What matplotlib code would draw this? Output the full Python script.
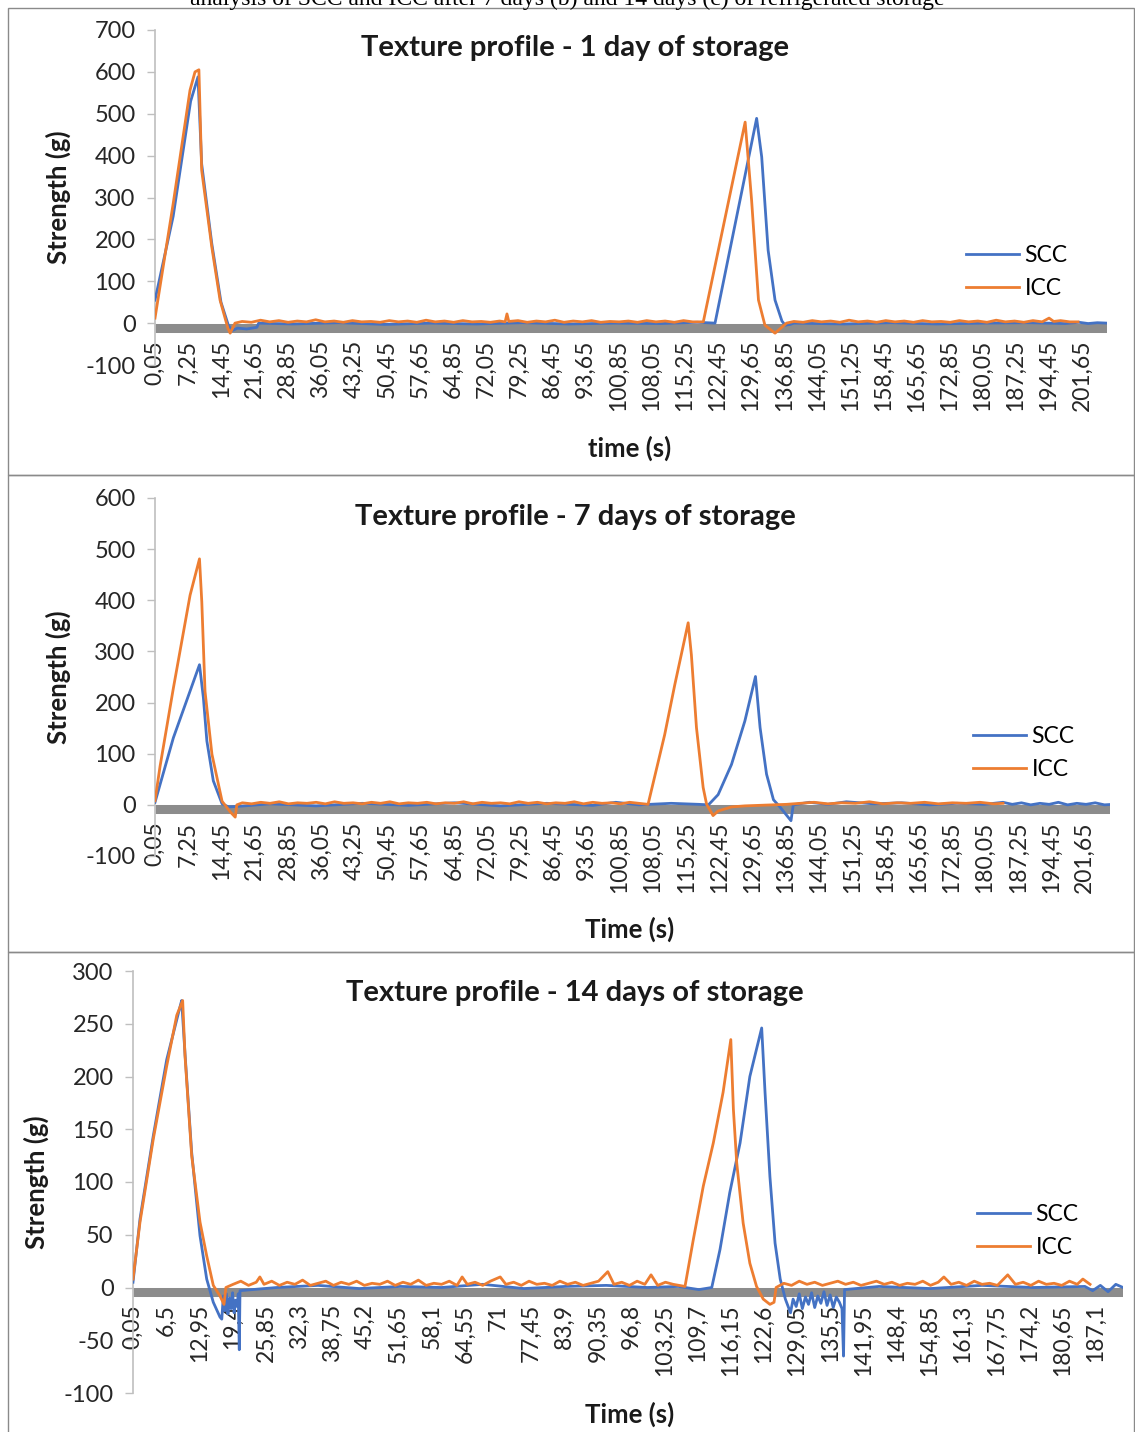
import matplotlib
matplotlib.use("Agg")
import matplotlib.pyplot as plt
import matplotlib.transforms as mtransforms
from matplotlib.patches import Rectangle

plt.rcParams['font.family'] = ['Lato', 'DejaVu Sans']

W, H = 1135, 1432

SCC_COLOR = '#4472C4'
ICC_COLOR = '#ED7D31'
BAND_COLOR = '#8C8C8C'

# ---- panel 1: 1 day of storage ----
p1_scc_t = [0.05, 4.0, 7.8, 9.4, 10.2, 12.4, 14.4, 16.0, 16.8, 18.0, 20.0, 22.2, 22.6,
            30, 40, 50, 60, 70, 80, 90, 100, 110, 118, 121.85,
            130.9, 132.0, 133.4, 134.9, 136.4, 137.1, 138.2, 139.0,
            150, 160, 170, 180, 190, 198, 201, 203, 205, 207.1]
p1_scc_v = [55, 255, 530, 588, 380, 190, 50, -5, -18, -12, -14, -10, 0,
            -2, 1, -3, 0, -2, 1, -2, 0, -1, 2, 0,
            489, 397, 174, 55, 5, -5, -3, 0,
            -2, 1, -2, 0, 1, -1, 2, -1, 1, 0]
p1_icc_t = [0.05, 4.0, 7.66, 8.75, 9.6, 10.2, 12.4, 14.2, 15.9, 16.4, 17.45,
            19, 21, 23, 25, 27, 29, 31, 33, 35, 37, 39, 41, 43, 45, 47, 49, 51, 53, 55, 57,
            59, 61, 63, 65, 67, 69, 71, 73, 75, 76.2, 76.6, 77.0,
            79, 81, 83, 85, 87, 89, 91, 93, 95, 97, 99, 101, 103, 105, 107, 109, 111, 113,
            115, 117, 119.3,
            128.4, 129.8, 131.3, 132.7, 134.9, 137.4,
            139, 141, 143, 145, 147, 149, 151, 153, 155, 157, 159, 161, 163, 165, 167, 169,
            171, 173, 175, 177, 179, 181, 183, 185, 187, 189, 191, 193, 194.5, 195.5, 197,
            199, 200.8]
p1_icc_v = [12, 285, 556, 600, 605, 365, 182, 55, -12, -24, 0,
            4, 2, 7, 3, 6, 2, 5, 3, 8, 3, 5, 2, 6, 3, 4, 2, 6, 3, 5, 2,
            7, 3, 5, 2, 6, 3, 4, 2, 5, 3, 22, 4,
            6, 2, 5, 3, 7, 2, 5, 3, 6, 2, 4, 3, 5, 2, 6, 3, 5, 2,
            6, 3, 3,
            480, 294, 55, -5, -24, 0,
            4, 2, 6, 3, 5, 2, 7, 3, 5, 2, 6, 3, 5, 2, 6, 3,
            4, 2, 6, 3, 5, 2, 7, 3, 5, 2, 6, 3, 12, 4, 6,
            3, 3]

# ---- panel 2: 7 days of storage ----
p2_scc_t = [0.05, 4.03, 9.7, 10.55, 11.3, 12.7, 14.6, 16.0, 18.0,
            25, 35, 45, 55, 65, 75, 85, 95, 100, 105, 112, 118, 120.1,
            122.2, 125.1, 128.0, 130.3, 131.3, 132.7, 134.2, 135.6, 138.0, 138.5,
            142, 146, 150, 156, 162, 168, 174, 180, 184, 186, 188, 190, 192, 194, 196,
            198, 200, 202, 204, 206, 207.8]
p2_scc_v = [5, 131, 274, 209, 125, 47, 2, -4, -3,
            2, -2, 3, -1, 4, -2, 3, -1, 5, 0, 3, 1, 0,
            20, 79, 164, 251, 151, 60, 10, -4, -31, 0,
            5, 1, 6, 2, 4, 0, 3, 1, 5, 1, 4, 0, 3, 1, 5,
            0, 3, 1, 4, 0, 1]
p2_icc_t = [0.05, 1.14, 4.03, 7.66, 9.7, 10.2, 10.9, 12.4, 14.6, 16.4, 17.45, 17.8,
            19, 21, 23, 25, 27, 29, 31, 33, 35, 37, 39, 41, 43, 45, 47, 49, 51, 53, 55, 57,
            59, 61, 63, 65, 67, 69, 71, 73, 75, 77, 79, 81, 83, 85, 87, 89, 91, 93, 95, 97,
            99, 101, 103, 105, 107.0,
            110.6, 112.8, 115.7, 116.4, 117.5, 118.95, 119.7, 121.1, 122.2, 125.1,
            128, 131, 134, 137, 140, 143, 146, 149, 152, 155, 158, 161, 164, 167, 170,
            173, 176, 179, 182, 184.0]
p2_icc_v = [8, 75, 228, 410, 481, 397, 222, 99, 7, -14, -24, 0,
            4, 2, 5, 3, 6, 2, 4, 3, 5, 2, 6, 3, 4, 2, 5, 3, 6, 2, 4, 3,
            5, 2, 4, 3, 6, 2, 5, 3, 4, 2, 6, 3, 5, 2, 4, 3, 6, 2, 5, 3,
            4, 2, 5, 3, 1,
            137, 235, 356, 293, 151, 34, 1, -21, -12, -4,
            -2, -1, 0, 1, 3, 5, 2, 4, 3, 6, 2, 4, 3, 5, 2,
            4, 3, 5, 2, 3]

# ---- panel 3: 14 days of storage ----
p3_scc_t = [0.05, 1.41, 4.0, 6.6, 9.18, 9.5, 10.15, 11.45, 13.07, 14.37, 15.65, 16.95, 17.3,
            17.6, 17.9, 18.2, 18.5, 18.8, 19.1, 19.4, 19.7, 20.0, 20.3, 20.5, 20.7, 20.84,
            28, 36, 44, 52, 60, 68, 76, 84, 92, 100, 106, 110, 112.5,
            114.1, 116.0, 118.0, 119.9, 122.2, 122.85, 123.8, 124.8, 125.8, 126.8, 127.8,
            128.3, 128.9, 129.5, 130.1, 130.7, 131.3, 131.9, 132.5, 133.1, 133.7, 134.3, 134.9,
            135.5, 136.1, 136.7, 137.3, 137.8, 138.1, 138.3,
            145, 155, 165, 175, 185, 186.5, 188, 189.5, 191, 192.4]
p3_scc_v = [5, 65, 144, 216, 266, 272, 222, 128, 49, 8, -14, -28, -30,
            -8, -22, -6, -25, -10, -20, -5, -24, -12, -18, -6, -59, -3,
            0, 2, -1, 1, 0, 3, -1, 1, 2, 0, 1, -2, 0,
            36, 90, 137, 200, 246, 185, 105, 42, 8, -11, -24,
            -11, -18, -6, -20, -9, -16, -5, -19, -8, -15, -4, -17,
            -7, -19, -9, -14, -20, -65, -2,
            1, -1, 2, 0, 1, -3, 2, -4, 3, 0]
p3_icc_t = [0.05, 1.41, 4.0, 6.6, 8.55, 9.7, 10.15, 11.45, 13.07, 14.37, 15.65, 16.95, 17.73, 18.1,
            19.5, 21, 22.5, 24, 24.7, 25.5, 27, 28.5, 30, 31.5, 33, 34.5, 36, 37.5, 39, 40.5,
            42, 43.5, 45, 46.5, 48, 49.5, 51, 52.5, 54, 55.5, 57, 58.5, 60, 61.5, 63, 64.0,
            65, 66.5, 68, 69.5, 71.4, 72.5, 74, 75.5, 77, 78.5, 80, 81.5, 83, 84.5, 86, 87.5,
            89, 90.5, 92.3, 93.5, 95, 96.5, 98, 99.5, 100.7, 102, 103.5, 105, 107.3,
            108.9, 110.85, 112.8, 114.7, 116.2, 116.7, 117.35, 118.6, 119.9, 121.2, 122.5, 123.8,
            124.6, 125.0,
            126.5, 128, 129.5, 131, 132.5, 134, 135.5, 137, 138.5, 140, 141.5, 143, 144.5, 146,
            147.5, 149, 150.5, 152, 153.5, 155, 156.5, 157.6, 159, 160.5, 162, 163.5, 165, 166.5,
            168, 170.0, 171.5, 173, 174.5, 176, 177.5, 179, 180.5, 182, 183.5, 184.6, 186.0]
p3_icc_v = [8, 62, 141, 210, 258, 272, 220, 125, 62, 30, 2, -8, -16, 0,
            3, 6, 2, 5, 10, 3, 6, 2, 5, 3, 7, 2, 4, 6, 2, 5,
            3, 6, 2, 4, 3, 6, 2, 5, 3, 7, 2, 4, 3, 6, 2, 10,
            3, 5, 2, 6, 10, 3, 5, 2, 6, 3, 4, 2, 6, 3, 5, 2,
            4, 6, 15, 3, 5, 2, 6, 3, 12, 2, 5, 3, 1,
            45, 96, 137, 185, 235, 169, 118, 61, 23, 1, -11, -16,
            -14, 0,
            4, 2, 6, 3, 5, 2, 4, 6, 3, 5, 2, 4, 6, 3,
            5, 2, 4, 3, 6, 2, 5, 10, 3, 5, 2, 6, 3, 4,
            2, 12, 3, 5, 2, 6, 3, 4, 2, 6, 3, 8, 3]

p1_xlabels = ['0,05', '7,25', '14,45', '21,65', '28,85', '36,05', '43,25', '50,45', '57,65',
              '64,85', '72,05', '79,25', '86,45', '93,65', '100,85', '108,05', '115,25',
              '122,45', '129,65', '136,85', '144,05', '151,25', '158,45', '165,65',
              '172,85', '180,05', '187,25', '194,45', '201,65']
p2_xlabels = p1_xlabels
p3_xlabels = ['0,05', '6,5', '12,95', '19,4', '25,85', '32,3', '38,75', '45,2', '51,65', '58,1',
              '64,55', '71', '77,45', '83,9', '90,35', '96,8', '103,25', '109,7', '116,15',
              '122,6', '129,05', '135,5', '141,95', '148,4', '154,85', '161,3', '167,75',
              '174,2', '180,65', '187,1']

p1_yticks = [-100, 0, 100, 200, 300, 400, 500, 600, 700]
p2_yticks = [-100, 0, 100, 200, 300, 400, 500, 600]
p3_yticks = [-100, -50, 0, 50, 100, 150, 200, 250, 300]

fig = plt.figure(figsize=(W / 100, H / 100), dpi=100)


def fx(px):
    return px / W


def fy(py):
    return 1 - py / H


def panel(box, xmax, scc, icc, xlabels, yticks, title, title_y, xlab, xlab_y,
          ylab_x, legend_xy):
    x0, y0, x1, y1 = box
    ax = fig.add_axes([fx(x0), fy(y1), (x1 - x0) / W, (y1 - y0) / H])

    # spines first: moving a spine resets the ticks
    for s in ['top', 'right']:
        ax.spines[s].set_visible(False)
    ax.spines['bottom'].set_position(('data', 0))
    ax.spines['bottom'].set_visible(False)
    ax.spines['left'].set_color('#BFBFBF')
    ax.spines['left'].set_linewidth(1.2)

    ax.plot(scc[0], scc[1], color=SCC_COLOR, lw=2.0, label='SCC', zorder=3)
    ax.plot(icc[0], icc[1], color=ICC_COLOR, lw=2.0, label='ICC', zorder=4)

    # thick grey horizontal axis just under zero
    off = mtransforms.ScaledTranslation(0, -4.5 / 100, fig.dpi_scale_trans)
    ax.plot([0, 1], [0, 0], transform=ax.get_yaxis_transform() + off,
            color=BAND_COLOR, lw=6.5, solid_capstyle='butt', zorder=2)

    ax.set_xlim(0.05, xmax)
    ax.set_ylim(yticks[0], yticks[-1])
    ax.set_yticks(yticks)
    ax.set_yticklabels([str(v) for v in yticks], fontsize=17, color='#262626')
    ax.tick_params(axis='y', length=6, width=1, color='#BFBFBF', pad=8)

    ticks = [float(s.replace(',', '.')) for s in xlabels]
    ax.set_xticks(ticks)
    ax.set_xticklabels(xlabels, rotation=90, fontsize=16.5, color='#262626')
    ax.tick_params(axis='x', length=0, pad=12)

    fig.text(fx(575), fy(title_y), title, ha='center', va='center',
             fontsize=21, fontweight='bold', color='#1a1a1a')
    fig.text(fx(630), fy(xlab_y), xlab, ha='center', va='center',
             fontsize=18.5, fontweight='bold', color='#1a1a1a')
    fig.text(fx(ylab_x), fy((y0 + y1) / 2), 'Strength (g)', rotation=90,
             ha='center', va='center', fontsize=18.5, fontweight='bold', color='#1a1a1a')

    ax.legend(loc='center left', bbox_to_anchor=(fx(legend_xy[0]), fy(legend_xy[1])),
              bbox_transform=fig.transFigure, frameon=False, fontsize=16.5,
              handlelength=2.3, handletextpad=0.25, labelspacing=0.5,
              borderpad=0, borderaxespad=0)
    return ax


panel((155, 30, 1107, 365), 207.1, (p1_scc_t, p1_scc_v), (p1_icc_t, p1_icc_v),
      p1_xlabels, p1_yticks, 'Texture profile - 1 day of storage', 48,
      'time (s)', 448, 58, (966, 272))
panel((155, 498, 1110, 856), 207.2, (p2_scc_t, p2_scc_v), (p2_icc_t, p2_icc_v),
      p2_xlabels, p2_yticks, 'Texture profile - 7 days of storage', 517,
      'Time (s)', 929, 58, (973, 753))
panel((133, 971, 1123, 1393), 192.4, (p3_scc_t, p3_scc_v), (p3_icc_t, p3_icc_v),
      p3_xlabels, p3_yticks, 'Texture profile - 14 days of storage', 993,
      'Time (s)', 1414, 36, (977, 1231))

# panel frames
for top, bot in [(8, 475), (475, 952), (952, 1440)]:
    fig.add_artist(Rectangle((fx(8), fy(bot)), fx(1134) - fx(8), (bot - top) / H,
                             transform=fig.transFigure, fill=False,
                             edgecolor='#8A8A8A', lw=1.0))

# caption of the source figure, cut at the top edge
fig.text(0.5, fy(-1), 'analysis of SCC and ICC after 7 days (b) and 14 days (c) of refrigerated storage',
         ha='center', va='center', fontsize=17, family='Liberation Serif', color='black')

fig.savefig('out.png', dpi=100)
